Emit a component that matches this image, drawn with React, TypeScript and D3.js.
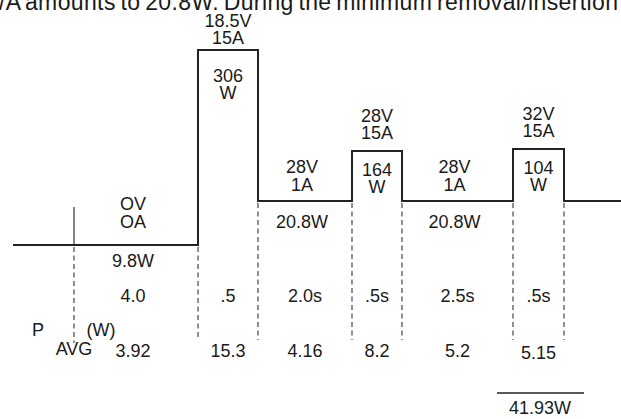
import React from "react";
import * as d3 from "d3";

const W = 621;
const H = 419;

// Segment states (voltage / current), power labels, durations, average power
const voltages = ["OV", "18.5V", "28V", "28V", "28V", "32V", "28V"];
const currents = ["OA", "15A", "1A", "15A", "1A", "15A", "1A"];
const powerNum = ["9.8W", "306", "20.8W", "164", "20.8W", "104", ""];
const isPulse = [false, true, false, true, false, true, false];
const durations = [4.0, 0.5, 2.0, 0.5, 2.5, 0.5];
const durationLabels = ["4.0", ".5", "2.0s", ".5s", "2.5s", ".5s"];
const avgPower = ["3.92", "15.3", "4.16", "8.2", "5.2", "5.15"];
const totalLabel = "41.93W";
const headerText = "/A amounts to 20.8W. During the minimum removal/insertion";

const FONT = "'Liberation Sans', Arial, Helvetica, sans-serif";

export default function App() {
  const bounds: number[] = [0];
  durations.forEach((d) => bounds.push(bounds[bounds.length - 1] + d));
  const tStart = -2;
  const tEnd = bounds[bounds.length - 1] + 1;

  // schematic (non-proportional) time axis
  const x = d3
    .scaleLinear()
    .domain([tStart, ...bounds, tEnd])
    .range([13, 74, 198, 258, 352, 402, 513, 564, 621]);

  const stateKeys = voltages.map((v, i) => v + currents[i]);
  const y = d3
    .scaleOrdinal<string, number>()
    .domain(["OVOA", "18.5V15A", "28V1A", "28V15A", "32V15A"])
    .range([245, 50, 201, 151, 149]);

  const pts: [number, number][] = [];
  pts.push([x(tStart), y(stateKeys[0])]);
  for (let i = 1; i < stateKeys.length; i++) {
    pts.push([x(bounds[i]), y(stateKeys[i])]);
  }
  pts.push([x(tEnd), y(stateKeys[stateKeys.length - 1])]);
  const line = d3.line().curve(d3.curveStepAfter)(pts) || "";

  const segCenter = (i: number) => (x(bounds[i]) + x(bounds[i + 1])) / 2;
  const dashBottom = 340;

  const textStyle = { fontFamily: FONT, fontSize: 18, fill: "#1a1a1a" } as const;

  return (
    <svg
      width={W}
      height={H}
      style={{ position: "absolute", left: 0, top: 0, background: "#fff" }}
    >
      <text
        x={-1}
        y={10}
        style={{ ...textStyle, fontSize: 23, wordSpacing: -2 }}
        textLength={619}
        lengthAdjust="spacing"
      >
        {headerText}
      </text>

      {/* start marker */}
      <line x1={x(0)} x2={x(0)} y1={207} y2={y(stateKeys[0])} stroke="#333" strokeWidth={1.2} />

      {/* dashed boundaries */}
      {bounds.map((b, i) => {
        const top =
          i === 0
            ? y(stateKeys[0])
            : Math.max(y(stateKeys[i - 1]), y(stateKeys[i]));
        return (
          <line
            key={"d" + i}
            x1={x(b)}
            x2={x(b)}
            y1={top + 2}
            y2={i === 0 ? 343 : dashBottom}
            stroke="#555"
            strokeWidth={1.3}
            strokeDasharray="5,3.5"
          />
        );
      })}

      {/* waveform */}
      <path d={line} fill="none" stroke="#222" strokeWidth={2} />

      {/* segment labels */}
      {durations.map((_, i) => {
        const cx = segCenter(i);
        const lvl = y(stateKeys[i]);
        if (isPulse[i]) {
          const a1 = Math.max(lvl - 29, 27);
          const p1 = Math.max(lvl + 25, 82);
          return (
            <g key={"s" + i} textAnchor="middle" style={textStyle}>
              <text x={cx} y={a1}>{voltages[i]}</text>
              <text x={cx} y={a1 + 17}>{currents[i]}</text>
              <text x={cx} y={p1}>{powerNum[i]}</text>
              <text x={cx} y={p1 + 17}>W</text>
            </g>
          );
        }
        const off = i === 0 ? 35 : 28;
        const below = i === 0 ? 22 : 27;
        return (
          <g key={"s" + i} textAnchor="middle" style={textStyle}>
            <text x={cx - 3} y={lvl - off}>{voltages[i]}</text>
            <text x={cx - 3} y={lvl - off + 18}>{currents[i]}</text>
            <text x={cx - 3} y={lvl + below}>{powerNum[i]}</text>
          </g>
        );
      })}

      {/* durations */}
      {durationLabels.map((d, i) => (
        <text key={"t" + i} x={segCenter(i) - (i === 0 ? 3 : 0)} y={302} textAnchor="middle" style={textStyle}>
          {d}
        </text>
      ))}

      {/* average power */}
      {avgPower.map((a, i) => (
        <text key={"a" + i} x={segCenter(i) - (i === 0 ? 3 : 0)} y={i === 5 ? 359 : 357} textAnchor="middle" style={textStyle}>
          {a}
        </text>
      ))}

      <text x={38} y={336} textAnchor="middle" style={textStyle}>P</text>
      <text x={101} y={336} textAnchor="middle" style={textStyle}>(W)</text>
      <text x={74} y={355} textAnchor="middle" style={textStyle}>AVG</text>

      {/* total */}
      <line x1={497} x2={584} y1={393} y2={393} stroke="#222" strokeWidth={1.4} />
      <text x={540} y={414} textAnchor="middle" style={textStyle}>{totalLabel}</text>
    </svg>
  );
}
